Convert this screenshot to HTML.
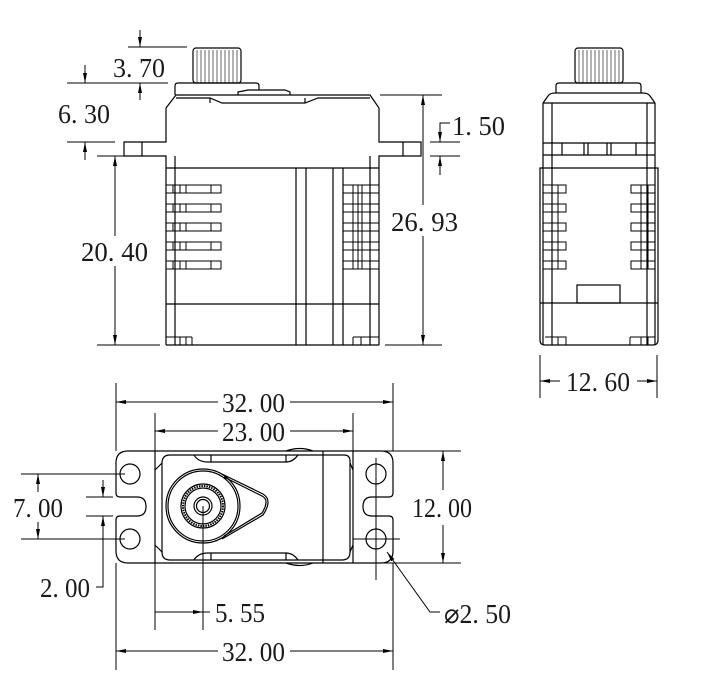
<!DOCTYPE html>
<html><head><style>
html,body{margin:0;padding:0;background:#fff;}
svg{display:block;}
text{font-family:"Liberation Serif","Noto Serif CJK SC",serif;font-size:27px;fill:#1a1a1a;}
</style></head><body>
<svg width="726" height="698" viewBox="0 0 726 698" xmlns="http://www.w3.org/2000/svg">
<defs>
<marker id="a" viewBox="0 0 10 4" refX="10" refY="2" markerWidth="10" markerHeight="4" markerUnits="userSpaceOnUse" orient="auto-start-reverse"><path d="M0,0L10,2L0,4z" fill="#000"/></marker>
</defs>
<g fill="none" stroke="#000" stroke-width="1.2">
<!-- FRONT VIEW -->
<rect x="193" y="48" width="48" height="35" rx="3"/>
<g stroke-width="0.6"><path d="M197,50V83M201,50V83M205,50V83M209,50V83M213,50V83M217,50V83M221,50V83M225,50V83M229,50V83M233,50V83M237,50V83"/></g>
<path d="M175,95V86Q175,83 178,83H256Q259,83 259,86V90"/>
<path d="M238,95V92L248,90H285L290,92V95"/>
<path d="M166,108L176,95H370L379,108"/>
<path d="M176,98H210L222,103H305L318,98H370"/>
<path d="M210,98V103M305,98V103"/>
<path d="M166,108V142H124V156H166V345M379,108V142H421V156H379V345"/>
<path d="M142,142V156M403,142V156"/>
<path d="M166,168H379M166,304H379M166,345H379"/>
<path d="M175,156V345M370,156V345M296,168V345M306,168V345M333,168V345M343,168V345"/>
<g stroke-width="1">
<rect x="166" y="185" width="55" height="8"/><rect x="166" y="204" width="55" height="8"/><rect x="166" y="223" width="55" height="8"/><rect x="166" y="242" width="55" height="8"/><rect x="166" y="261" width="55" height="8"/>
<path d="M173,185V193M180,185V193M186,185V193M211,185V193M173,204V212M180,204V212M186,204V212M211,204V212M173,223V231M180,223V231M186,223V231M211,223V231M173,242V250M180,242V250M186,242V250M211,242V250M173,261V269M180,261V269M186,261V269M211,261V269"/>
<rect x="343" y="185" width="36" height="8"/><rect x="343" y="204" width="36" height="8"/><rect x="343" y="223" width="36" height="8"/><rect x="343" y="242" width="36" height="8"/><rect x="343" y="261" width="36" height="8"/>
<path d="M353,185V269M358,185V269M362,185V269M370,185V269"/>
<path d="M166,337H192M180,337V345M186,337V345M192,337V345M353,337H379M353,337V345M361,337V345M370,337V345"/>
</g>
<!-- front dims -->
<g stroke-width="1">
<path d="M128,47H187M120,83H168M67,83H120M67,142H115M97,156H124M97,345H160M380,95H442M385,345H442M430,142H460M430,156H460"/>
<path d="M140,30V47" marker-end="url(#a)"/><path d="M140,100V83" marker-end="url(#a)"/>
<path d="M85,65V83" marker-end="url(#a)"/><path d="M85,160V142" marker-end="url(#a)"/>
<path d="M115,236V156" marker-end="url(#a)"/><path d="M115,266V345" marker-end="url(#a)"/>
<path d="M423,205V95" marker-end="url(#a)"/><path d="M423,236V345" marker-end="url(#a)"/>
<path d="M450,123H440V142" marker-end="url(#a)"/><path d="M440,175V156" marker-end="url(#a)"/>
</g>
<!-- SIDE VIEW -->
<rect x="575" y="48" width="48" height="35" rx="3"/>
<g stroke-width="0.6"><path d="M579,50V83M583,50V83M587,50V83M591,50V83M595,50V83M599,50V83M603,50V83M607,50V83M611,50V83M615,50V83M619,50V83"/></g>
<path d="M556,93V86Q556,83 559,83H638Q641,83 641,86V93"/>
<path d="M543,103L548,96Q550,93 555,93H643Q648,93 650,96L655,103"/>
<path d="M543,103H655M543,103V168M655,103V168M552,103V345M647,103V345"/>
<path d="M543,143H655M543,155H655M562,143V155M584,143V155M588,143V155M607,143V155M611,143V155M636,143V155"/>
<path d="M540,168H658V340Q658,345 653,345H545Q540,345 540,340Z"/>
<path d="M543,168V345M655,168V345M540,303H658"/>
<rect x="577" y="285" width="43" height="18"/>
<g stroke-width="1">
<rect x="543" y="185" width="23" height="8"/><rect x="543" y="204" width="23" height="8"/><rect x="543" y="223" width="23" height="8"/><rect x="543" y="242" width="23" height="8"/><rect x="543" y="261" width="23" height="8"/>
<rect x="631" y="185" width="24" height="8"/><rect x="631" y="204" width="24" height="8"/><rect x="631" y="223" width="24" height="8"/><rect x="631" y="242" width="24" height="8"/><rect x="631" y="261" width="24" height="8"/>
<path d="M558,185V269M641,185V269M648,185V269"/>
<path d="M545,337H566V345M558,337V345M630,337H655M630,337V345M641,337V345M648,337V345"/>
</g>
<g stroke-width="1">
<path d="M540,355V398M657,355V398"/>
<path d="M560,381H540" marker-end="url(#a)"/><path d="M637,381H657" marker-end="url(#a)"/>
</g>
<!-- BOTTOM VIEW -->
<path d="M128,451H381Q393,451 393,463V493Q393,497 389,497H372Q363,497 363,506.5Q363,516 372,516H389Q393,516 393,520V551Q393,563 381,563H128Q116,563 116,551V520Q116,516 120,516H137Q146,516 146,506.5Q146,497 137,497H120Q116,497 116,493V463Q116,451 128,451Z"/>
<circle cx="130" cy="474" r="10"/><circle cx="130" cy="539" r="10"/>
<circle cx="376" cy="474" r="10"/><circle cx="376" cy="539" r="10"/>
<path d="M155,451V563M353,451V563M323,451V563"/>
<path d="M172,455H344Q350,455 350,461V552Q350,560 342,560H170Q162,560 162,552V463Q162,455 170,455Z"/>
<path d="M155,470L162,463M155,545L162,552M353,470L350,463M353,545L350,552"/>
<path d="M194,455Q198,462 208,462H286Q293,462 298,455M194,560Q198,553 208,553H286Q293,553 298,560"/>
<path d="M211,455V462M211,553V560M286,451Q300,446 313,451M286,563Q300,568 313,563M286,455V462M286,553V560"/>
<circle cx="203" cy="506" r="37"/><circle cx="203" cy="506" r="35"/>
<path d="M222,474L263,494Q273,500 263,515L222,539"/>
<path d="M224,477L262,496Q270,500 262,513L224,536"/>
<circle cx="203" cy="506" r="22"/><circle cx="203" cy="506" r="20" stroke-dasharray="1.5 1" stroke-width="2"/><circle cx="203" cy="506" r="18"/>
<circle cx="203" cy="506" r="9"/><circle cx="203" cy="506" r="6.5"/>
<!-- bottom dims -->
<g stroke-width="1">
<path d="M116,383V451M393,383V451M155,413V451M353,413V451M393,563V670M116,563V670M155,563V630M203,506V630"/>
<path d="M353,451H461M353,563H461M21,474H125M21,539H125M86,497H113M86,516H113M376,458V580M353,539H400"/>
<path d="M218,402H116" marker-end="url(#a)"/><path d="M290,402H393" marker-end="url(#a)"/>
<path d="M218,431H155" marker-end="url(#a)"/><path d="M290,431H353" marker-end="url(#a)"/>
<path d="M218,651H116" marker-end="url(#a)"/><path d="M290,651H393" marker-end="url(#a)"/>
<path d="M443,490V451" marker-end="url(#a)"/><path d="M443,525V563" marker-end="url(#a)"/>
<path d="M38,492V474" marker-end="url(#a)"/><path d="M38,522V539" marker-end="url(#a)"/>
<path d="M103,480V497" marker-end="url(#a)"/><path d="M96,587H103V516" marker-end="url(#a)"/>
<path d="M155,612H203" marker-end="url(#a)"/><path d="M203,612H210"/>
<path d="M440,612H430L387,552" marker-end="url(#a)"/>
</g>
</g>
<text x="113" y="77" textLength="52" lengthAdjust="spacingAndGlyphs">3. 70</text>
<text x="58" y="123" textLength="52" lengthAdjust="spacingAndGlyphs">6. 30</text>
<text x="81" y="261" textLength="67" lengthAdjust="spacingAndGlyphs">20. 40</text>
<text x="391" y="231" textLength="67" lengthAdjust="spacingAndGlyphs">26. 93</text>
<text x="452" y="135" textLength="53" lengthAdjust="spacingAndGlyphs">1. 50</text>
<text x="566" y="391" textLength="64" lengthAdjust="spacingAndGlyphs">12. 60</text>
<text x="222" y="412" textLength="63" lengthAdjust="spacingAndGlyphs">32. 00</text>
<text x="222" y="441" textLength="63" lengthAdjust="spacingAndGlyphs">23. 00</text>
<text x="222" y="661" textLength="63" lengthAdjust="spacingAndGlyphs">32. 00</text>
<text x="412" y="517" textLength="60" lengthAdjust="spacingAndGlyphs">12. 00</text>
<text x="13" y="517" textLength="50" lengthAdjust="spacingAndGlyphs">7. 00</text>
<text x="40" y="597" textLength="50" lengthAdjust="spacingAndGlyphs">2. 00</text>
<text x="215" y="622" textLength="50" lengthAdjust="spacingAndGlyphs">5. 55</text>
<text x="444" y="623" textLength="67" lengthAdjust="spacingAndGlyphs">⌀2. 50</text>
</svg>
</body></html>
